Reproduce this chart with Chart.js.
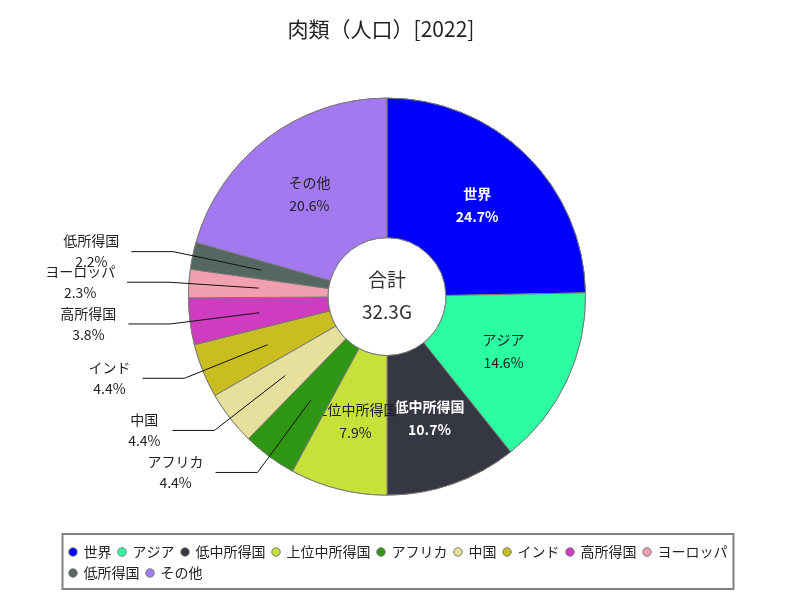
<!DOCTYPE html>
<html>
<head>
<meta charset="utf-8">
<script src="https://cdn.jsdelivr.net/npm/chart.js@4/dist/chart.umd.min.js"></script>
<style>
  html, body { margin: 0; padding: 0; background: #ffffff; }
  #wrap { width: 800px; height: 600px; position: relative; }
</style>
</head>
<body>
<div id="wrap"><canvas id="c" width="800" height="600"></canvas></div>
<script>
// ---- data ----
const titleText = '肉類（人口）[2022]';
const categories = ['世界', 'アジア', '低中所得国', '上位中所得国', 'アフリカ', '中国', 'インド', '高所得国', 'ヨーロッパ', '低所得国', 'その他'];
const shares = [24.7, 14.6, 10.7, 7.9, 4.4, 4.4, 4.4, 3.8, 2.3, 2.2, 20.6];
const sliceColors = ['#0000ff', '#2cffa2', '#353842', '#c8e03a', '#2e9612', '#e6e09c', '#c9bd1f', '#d03cbf', '#f2a0b0', '#566660', '#a379ef'];
const centerTitle = '合計';
const centerValue = '32.3G';

const FONT = '"Noto Sans CJK JP", "Noto Sans", sans-serif';
const OUTSIDE_LIMIT = 5; // slices below this share get an outside label
const LEGEND_LEFT = 62.5;
const LEGEND_FRAME_W = 671;

function isDark(hex) {
  const r = parseInt(hex.slice(1, 3), 16) / 255;
  const g = parseInt(hex.slice(3, 5), 16) / 255;
  const b = parseInt(hex.slice(5, 7), 16) / 255;
  return 0.2126 * r + 0.7152 * g + 0.0722 * b < 0.25;
}

const layoutTweak = {
  id: 'layoutTweak',
  afterLayout(chart) {
    const lg = chart.legend;
    if (lg) {
      lg.left = LEGEND_LEFT;
      lg.width = LEGEND_FRAME_W + 12;
      lg.right = lg.left + lg.width;
    }
    const tb = chart.titleBlock;
    if (tb) { tb.left -= 6; tb.right -= 6; }
  },
  afterDraw(chart) {
    const lg = chart.legend;
    if (!lg) return;
    const ctx = chart.ctx;
    ctx.save();
    ctx.strokeStyle = '#808080';
    ctx.lineWidth = 2;
    ctx.strokeRect(lg.left, lg.top - 4, LEGEND_FRAME_W, lg.height + 3);
    ctx.restore();
  }
};

const sliceLabels = {
  id: 'sliceLabels',
  afterDatasetsDraw(chart) {
    const ctx = chart.ctx;
    const meta = chart.getDatasetMeta(0);
    meta.data.forEach((arc, i) => {
      arc.draw(ctx);
      const share = shares[i];
      const name = categories[i];
      const pct = share.toFixed(1) + '%';
      const pos = arc.tooltipPosition();
      const p = arc.getProps(['x', 'y', 'startAngle', 'endAngle', 'outerRadius']);
      ctx.save();
      ctx.textBaseline = 'middle';
      if (share >= OUTSIDE_LIMIT) {
        const dark = isDark(sliceColors[i]);
        ctx.fillStyle = dark ? '#ffffff' : '#222222';
        ctx.font = (dark ? 'bold ' : '') + '14px ' + FONT;
        ctx.textAlign = 'center';
        ctx.fillText(name, pos.x, pos.y - 11.5);
        ctx.fillText(pct, pos.x, pos.y + 11.5);
      } else {
        const mid = (p.startAngle + p.endAngle) / 2;
        const ex = p.x + Math.cos(mid) * p.outerRadius * 1.1;
        const ey = p.y + Math.sin(mid) * p.outerRadius * 1.1;
        const sx = ex - 42;
        ctx.strokeStyle = '#111111';
        ctx.lineWidth = 1;
        ctx.beginPath();
        ctx.moveTo(pos.x, pos.y);
        ctx.lineTo(ex, ey);
        ctx.lineTo(sx, ey);
        ctx.stroke();
        ctx.font = '14px ' + FONT;
        ctx.fillStyle = '#222222';
        ctx.textAlign = 'center';
        const w = Math.max(ctx.measureText(name).width, ctx.measureText(pct).width);
        const cx = sx - 12 - w / 2;
        ctx.fillText(name, cx, ey - 10.5);
        ctx.fillText(pct, cx, ey + 10.5);
      }
      ctx.restore();
    });
    // center text
    const a0 = meta.data[0];
    const c = a0.getProps(['x', 'y']);
    ctx.save();
    ctx.fillStyle = '#333333';
    ctx.textAlign = 'center';
    ctx.textBaseline = 'middle';
    ctx.font = '19px ' + FONT;
    ctx.fillText(centerTitle, c.x, c.y - 17);
    ctx.fillText(centerValue, c.x, c.y + 15);
    ctx.restore();
  }
};

new Chart(document.getElementById('c'), {
  type: 'doughnut',
  data: {
    labels: categories,
    datasets: [{
      data: shares,
      backgroundColor: sliceColors,
      borderColor: '#7a7a7a',
      borderWidth: 1,
      borderAlign: 'center'
    }]
  },
  options: {
    responsive: false,
    animation: false,
    devicePixelRatio: 1,
    cutout: '29.7%',
    radius: 198.5,
    layout: { padding: { top: 10, bottom: 10, left: 20, right: 46 } },
    plugins: {
      title: {
        display: true,
        text: titleText,
        color: '#222222',
        font: { family: FONT, size: 21, weight: 'normal', lineHeight: 1.2 },
        padding: { top: 6, bottom: 14 }
      },
      legend: {
        display: true,
        position: 'bottom',
        align: 'start',
        labels: {
          usePointStyle: true,
          pointStyle: 'circle',
          boxWidth: 7,
          boxHeight: 6,
          padding: 7,
          color: '#222222',
          font: { family: FONT, size: 14 }
        }
      },
      tooltip: { enabled: false }
    }
  },
  plugins: [layoutTweak, sliceLabels]
});
</script>
</body>
</html>
